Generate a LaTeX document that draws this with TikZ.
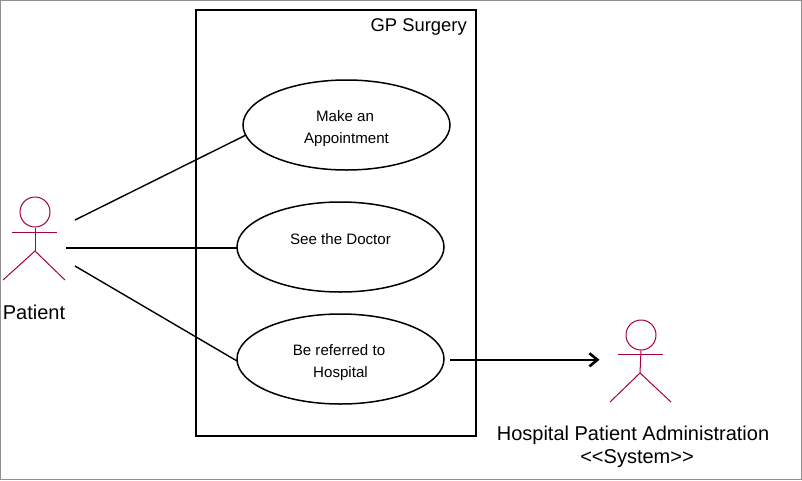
\documentclass[tikz,border=0pt]{standalone}
\usepackage{fontspec}
\setmainfont{Liberation Sans}
\usetikzlibrary{shapes.geometric,arrows.meta}
\definecolor{actorc}{HTML}{A50040}
\definecolor{framec}{HTML}{909090}
\tikzset{
  usecase/.style={draw=black,line width=1.5pt,ellipse,minimum width=207pt,minimum height=90pt,inner sep=0pt,align=center,font=\fontsize{15.1}{22}\selectfont},
  system/.style={draw=black,line width=1.8pt,rectangle,minimum width=280pt,minimum height=426pt,inner sep=0pt},
  limb/.style={draw=actorc,line width=1pt},
  assoc/.style={draw=black,line width=1.4pt},
  caption/.style={inner sep=0pt,align=center,text=black,font=\fontsize{20}{23}\selectfont},
  sysname/.style={inner sep=0pt,text=black,font=\fontsize{18.4}{22}\selectfont},
  acthead/.style={draw=actorc,line width=1pt,circle,minimum size=30pt,inner sep=0pt}
}
\begin{document}
\begin{tikzpicture}[x=1pt,y=-1pt]
\useasboundingbox (0,0) rectangle (802,480);
\draw[draw=framec,line width=1pt] (0.5,480) -- (0.5,0.5) -- (801.5,0.5) -- (801.5,480);
\draw[draw=framec,line width=1pt] (0,479.5) -- (802,479.5);
\node[system] (sys) at (336,223) {};
\node[sysname,anchor=north east] (sysnm) at (467,18) {GP Surgery};
\node[usecase] (uc1) at (346.5,125) {\rule{0pt}{19pt}\hspace*{-3pt}Make an\\Appointment};
\node[usecase] (uc2) at (340.5,247) {\rule{0pt}{23pt}See the Doctor\\\strut};
\node[usecase] (uc3) at (340.5,359) {\rule{0pt}{19pt}\hspace*{-3pt}Be referred to\\Hospital};
% Patient actor
\node[acthead] (h1) at (35,212) {};
\coordinate (h1b) at (35,251);
\coordinate (h1l) at (12,232);
\coordinate (h1r) at (57,232);
\coordinate (h1fl) at (3,280);
\coordinate (h1fr) at (65,280);
\draw[limb] (h1.south) -- (h1b);
\draw[limb] (h1l) -- (h1r);
\draw[limb] (h1fl) -- (h1b) -- (h1fr);
\node[caption] (patient) at (34,312) {Patient};
% System actor
\node[acthead] (h2) at (641,335) {};
\coordinate (h2b) at (640,373);
\coordinate (h2l) at (618,354);
\coordinate (h2r) at (663,354);
\coordinate (h2fl) at (610,402);
\coordinate (h2fr) at (671,402);
\draw[limb] (h2.south) -- (h2b);
\draw[limb] (h2l) -- (h2r);
\draw[limb] (h2fl) -- (h2b) -- (h2fr);
\node[caption] (hosp) at (633,447) {Hospital Patient Administration\\\hspace*{8pt}<{}<System>{}>};
% Connectors
\coordinate (p1) at (75,220);
\coordinate (p2) at (66,248);
\coordinate (p3) at (75,266);
\coordinate (u1) at (246,135);
\coordinate (u2) at (237,248);
\coordinate (u3) at (237,361);
\coordinate (a3) at (450,359.8);
\coordinate (a4) at (599.5,359.8);
\draw[assoc] (p1) -- (u1);
\draw[assoc] (p2) -- (u2);
\draw[assoc] (p3) -- (u3);
\draw[assoc,-{Straight Barb[length=8pt,width=13pt,line width=2.6pt]}] (a3) -- (a4);
\end{tikzpicture}
\end{document}
